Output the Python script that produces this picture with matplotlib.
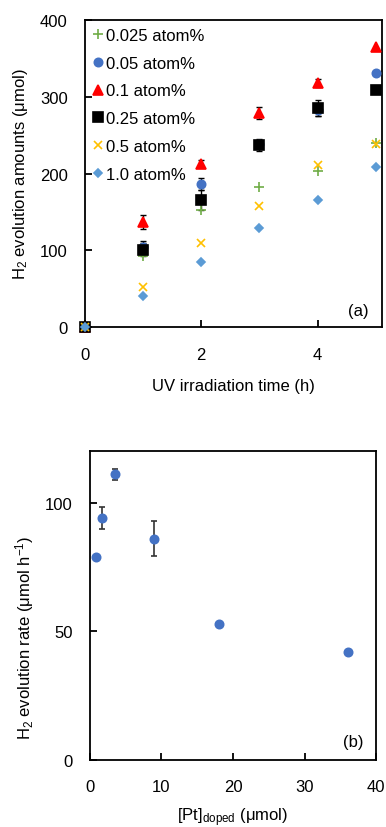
import matplotlib
matplotlib.use("Agg")
import matplotlib.pyplot as plt

plt.rcParams['font.family'] = ['Liberation Sans', 'DejaVu Sans']
plt.rcParams['mathtext.fontset'] = 'custom'
plt.rcParams['mathtext.rm'] = 'Liberation Sans'
plt.rcParams['mathtext.it'] = 'Liberation Sans'
plt.rcParams['font.size'] = 12

# ---- data panel (a) ----
time_h = [0, 1, 2, 3, 4, 5]
labels_a = ["0.025 atom%", "0.05 atom%", "0.1 atom%", "0.25 atom%", "0.5 atom%", "1.0 atom%"]
h2_0025 = [0, 93, 152, 182, 203, 240]
h2_005 = [0, 104, 186, 238, 283, 331]
h2_01 = [0, 137, 213, 279, 318, 364]
h2_025 = [0, 101, 166, 237, 285, 309]
h2_05 = [0, 53, 109, 158, 211, 239]
h2_10 = [0, 41, 85, 129, 166, 208]
err_0025 = [0, 0, 0, 0, 0, 0]
err_005 = [0, 8, 8, 0, 8, 0]
err_01 = [0, 9, 4, 8, 5, 0]
err_025 = [0, 8, 13, 8, 10, 0]
err_05 = [0, 0, 0, 0, 0, 0]
err_10 = [0, 0, 0, 0, 0, 0]

# ---- data panel (b) ----
pt_doped = [0.9, 1.8, 3.6, 9, 18, 36]
rate = [79, 94, 111, 86, 53, 42]
rate_err = [0, 4.3, 2.2, 6.9, 0, 0]


def draw(ax, x, y, e, marker, color, ms, ecolor, label=None, elw=1.0):
    xs = [a for a, b in zip(x, e) if b > 0]
    ys = [a for a, b in zip(y, e) if b > 0]
    es = [b for b in e if b > 0]
    if xs:
        ax.errorbar(xs, ys, yerr=es, fmt='none', ecolor=ecolor, elinewidth=elw,
                    capsize=2.5, capthick=elw, zorder=2)
    ax.plot(x, y, linestyle='none', marker=marker, color=color, ms=ms, mew=1.2,
            label=label, zorder=3, clip_on=False)


fig = plt.figure(figsize=(3.86, 8.28), dpi=100)

ax1 = fig.add_axes([0.219, 0.6035, 0.770, 0.3715])
series = [
    (h2_0025, err_0025, '+', '#70AD47', 7),
    (h2_005, err_005, 'o', '#4472C4', 6),
    (h2_01, err_01, '^', '#FF0000', 6.5),
    (h2_025, err_025, 's', '#000000', 6.5),
    (h2_05, err_05, 'x', '#FFC000', 6),
    (h2_10, err_10, 'D', '#5B9BD5', 4.5),
]
for (vals, errs, m, c, ms), lab in zip(series, labels_a):
    draw(ax1, time_h, vals, errs, m, c, ms, 'black', label=lab)
ax1.set_xlim(0, 5.1)
ax1.set_ylim(0, 400)
ax1.set_xticks([0, 2, 4])
ax1.set_yticks([0, 100, 200, 300, 400])
ax1.set_xlabel("UV irradiation time (h)", labelpad=12)
ax1.set_ylabel("H$_2$ evolution amounts (μmol)", labelpad=7)
ax1.text(0.955, 0.03, "(a)", transform=ax1.transAxes, ha='right', va='bottom')
ax1.legend(loc='upper left', bbox_to_anchor=(-0.01, 1.0), frameon=False,
           handletextpad=0.0, handlelength=1.0,
           labelspacing=0.77, borderaxespad=0.1, borderpad=0.38)

ax2 = fig.add_axes([0.232, 0.0809, 0.743, 0.3731])
draw(ax2, pt_doped, rate, rate_err, 'o', '#4472C4', 6, '#333333', elw=1.2)
ax2.set_xlim(0, 40)
ax2.set_ylim(0, 120)
ax2.set_xticks([0, 10, 20, 30, 40])
ax2.set_yticks([0, 50, 100])
ax2.set_xlabel("[Pt]$_{\\mathregular{doped}}$ (μmol)", labelpad=8)
ax2.set_ylabel("H$_2$ evolution rate (μmol h$^{-1}$)")
ax2.yaxis.set_label_coords(-0.185, 0.40)
ax2.text(0.955, 0.035, "(b)", transform=ax2.transAxes, ha='right', va='bottom')

for ax in (ax1, ax2):
    for s in ax.spines.values():
        s.set_linewidth(1.3)
    ax.tick_params(direction='in', length=5, width=1.3, pad=12)
    ax.tick_params(axis='x', pad=14)

fig.savefig("out.png", dpi=100)
